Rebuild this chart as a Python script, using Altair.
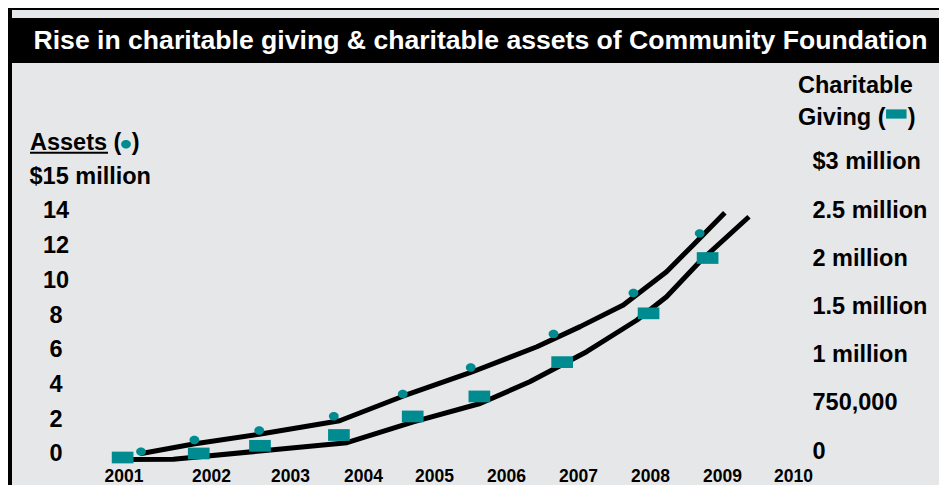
import altair as alt
import pandas as pd

# ---------------- data ----------------
YEARS = [2001, 2002, 2003, 2004, 2005, 2006, 2007, 2008, 2009, 2010]
ASSET_TICKS = [0, 2, 4, 6, 8, 10, 12, 14, 16]
ASSET_TOP_LABEL = "$15 million"
GIVING_TICKS = [0, 750000, 1000000, 1500000, 2000000, 2500000, 3000000]
GIVING_LABELS = ["0", "750,000", "1 million", "1.5 million", "2 million", "2.5 million", "$3 million"]

TITLE = "Rise in charitable giving & charitable assets of Community Foundation"

# Assets markers (dots), $ million
asset_x = [2001.20, 2001.81, 2002.61, 2003.60, 2004.56, 2005.51, 2006.66, 2007.77, 2008.69]
asset_v = [0.12, 0.79, 1.34, 2.16, 3.44, 4.97, 6.91, 9.27, 12.71]

# Charitable giving markers (bars), $
giving_x = [2000.99, 2001.86, 2002.62, 2003.67, 2004.70, 2005.63, 2006.78, 2007.98, 2008.80]
giving_v = [45000, 97000, 196000, 335000, 574000, 783000, 961000, 1428000, 2002000]

# Trend lines
asset_line_x = [2001.19, 2001.80, 2002.61, 2003.68, 2004.57, 2005.50, 2006.43, 2007.03, 2007.63, 2008.23, 2008.60, 2009.04]
asset_line_v = [0.0, 0.56, 1.12, 1.90, 3.33, 4.67, 6.17, 7.33, 8.58, 10.50, 12.04, 13.90]
giving_line_x = [2000.98, 2001.57, 2002.62, 2003.78, 2004.71, 2005.64, 2006.33, 2007.12, 2007.82, 2008.23, 2008.69, 2009.38]
giving_line_v = [19000, 22000, 129000, 236000, 505000, 741000, 859000, 1030000, 1359000, 1601000, 1964000, 2430000]

# ---------------- style ----------------
FONT = "Liberation Sans"
TEAL = "#008b90"
BG = "#e6e7e9"
DOT = "M-1,0A1,0.86,0,1,1,1,0A1,0.86,0,1,1,-1,0Z"
BAR = "M-1,-0.54L1,-0.54L1,0.54L-1,0.54Z"
BAR_SMALL = "M-1,-0.45L1,-0.45L1,0.45L-1,0.45Z"

W, H = 700, 396
X_RANGE = [23.5, 111, 190, 263, 334, 406, 478, 550, 622, 693]
A_RANGE = [383.7, 106.3]
G_RANGE = [391, 332.8, 284.6, 236.4, 188.2, 140, 91.8]

x_enc = alt.X(
    "x:Q",
    scale=alt.Scale(domain=YEARS, range=X_RANGE, nice=False, zero=False),
    axis=alt.Axis(values=YEARS, format="d", title=None, grid=False, domain=False,
                  ticks=False, tickSize=0, labelFont=FONT, labelFontSize=17.5,
                  labelFontWeight="bold", labelColor="black", labelBaseline="alphabetic",
                  labelPadding=15.7, labelFlush=False, labelOverlap=False, labelBound=False),
)

ya = alt.Y(
    "v:Q",
    scale=alt.Scale(domain=[0, 16], range=A_RANGE, nice=False, zero=False),
    axis=alt.Axis(orient="left", values=ASSET_TICKS,
                  labelExpr=f"datum.value == 16 ? '{ASSET_TOP_LABEL}' : datum.label",
                  title=None, grid=False, domain=False, ticks=False, tickSize=0,
                  labelFont=FONT, labelFontSize=23.5, labelFontWeight="bold", labelColor="black",
                  labelAlign={"condition": {"test": "datum.value == 16", "value": "left"}, "value": "center"},
                  labelPadding={"condition": {"test": "datum.value == 16", "value": 71}, "value": 44.5},
                  labelBaseline="middle", labelOverlap=False, labelFlush=False, labelBound=False),
)

g_labels_js = "[" + ",".join("'" + s + "'" for s in GIVING_LABELS) + "]"
g_ticks_js = "[" + ",".join(str(v) for v in GIVING_TICKS) + "]"
yg = alt.Y(
    "g:Q",
    scale=alt.Scale(domain=GIVING_TICKS, range=G_RANGE, nice=False, zero=False),
    axis=alt.Axis(orient="right", values=GIVING_TICKS,
                  labelExpr=f"{g_labels_js}[indexof({g_ticks_js}, datum.value)]",
                  title=None, grid=False, domain=False, ticks=False, tickSize=0,
                  labelFont=FONT, labelFontSize=23.5, labelFontWeight="bold", labelColor="black",
                  labelAlign="left", labelPadding=12, labelBaseline="middle",
                  labelOffset={"condition": {"test": "datum.value == 0", "value": -10}, "value": 0},
                  labelOverlap=False, labelFlush=False, labelBound=False),
)

asset_pts = pd.DataFrame({"x": asset_x, "v": asset_v})
asset_line = pd.DataFrame({"x": asset_line_x, "v": asset_line_v})
giving_pts = pd.DataFrame({"x": giving_x, "g": giving_v})
giving_line = pd.DataFrame({"x": giving_line_x, "g": giving_line_v})

assets_layer = alt.layer(
    alt.Chart(asset_line).mark_line(color="black", strokeWidth=5, interpolate="linear",
                                    strokeJoin="round").encode(x=x_enc, y=ya),
    alt.Chart(asset_pts).mark_point(shape=DOT, size=96, filled=True, color=TEAL, opacity=1, strokeWidth=0).encode(x=x_enc, y=ya),
)
giving_layer = alt.layer(
    alt.Chart(giving_line).mark_line(color="black", strokeWidth=5, interpolate="linear",
                                     strokeJoin="round").encode(x=x_enc, y=yg),
    alt.Chart(giving_pts).mark_point(shape=BAR, size=471, filled=True, color=TEAL, opacity=1, strokeWidth=0).encode(x=x_enc, y=yg),
)

one = alt.Data(values=[{"k": 1}])


def rect(x1, x2, y1, y2, color):
    return alt.Chart(one).mark_rect(color=color).encode(
        x=alt.value(x1), x2=alt.value(x2), y=alt.value(y1), y2=alt.value(y2))


def txt(s, x, y, size, color="black", align="left", baseline="alphabetic"):
    return alt.Chart(one).mark_text(text=s, font=FONT, fontSize=size, fontWeight="bold",
                                    color=color, align=align, baseline=baseline).encode(
        x=alt.value(x), y=alt.value(y))


def sym(shape, size, x, y):
    return alt.Chart(one).mark_point(shape=shape, size=size, filled=True, color=TEAL,
                                     opacity=1, strokeWidth=0).encode(x=alt.value(x), y=alt.value(y))


deco = [
    rect(-92, 839, -62, -60, "black"),       # top frame line
    rect(-92, -88, -62, 415, "black"),       # left frame line
    rect(-92, 839, -52, -7, "black"),        # title bar
    txt(TITLE, 380.5, -29, 26.6, color="white", align="center", baseline="middle"),
    txt("Assets (", -70, 80, 23.5),
    rect(-70, 8, 81.7, 83.7, "black"),       # underline
    sym(DOT, 96, 26, 74.3),
    txt(")", 31.7, 80, 23.5),
    txt("Charitable", 698, 22.7, 23.5),
    txt("Giving (", 698, 55, 23.5),
    sym(BAR_SMALL, 420, 796.3, 44),
    txt(")", 807.7, 55, 23.5),
]

chart = alt.layer(*deco, assets_layer, giving_layer).resolve_scale(y="independent").properties(
    width=W, height=H,
    autosize=alt.AutoSizeParams(type="none"),
    padding={"left": 92, "top": 62, "right": 139, "bottom": 19},
    background=BG,
).configure_view(stroke=None)

chart.save("out.html", embed_options={"renderer": "svg", "actions": False})
